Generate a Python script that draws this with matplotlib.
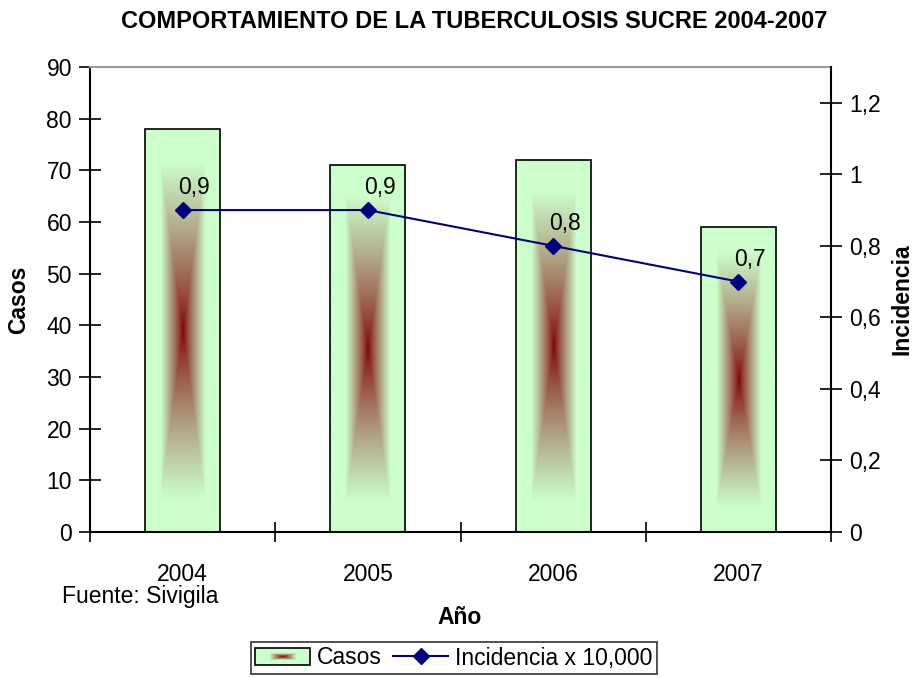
import matplotlib
matplotlib.use("Agg")
import matplotlib.pyplot as plt
import numpy as np
from matplotlib.legend_handler import HandlerBase
from matplotlib.patches import Rectangle
from matplotlib.lines import Line2D
from matplotlib.ticker import FuncFormatter

plt.rcParams['font.family'] = ['Liberation Sans', 'DejaVu Sans']

years = ['2004', '2005', '2006', '2007']
casos = [78, 71, 72, 59]
incidencia = [0.9, 0.9, 0.8, 0.7]

GREEN = np.array([204, 255, 204]) / 255.0
RED = np.array([128, 0, 0]) / 255.0
FS = 16.5


def grad_image(nx=80, ny=300, a=0.6, b=0.84):
	# rectangular "from centre" gradient, red in the middle, green outside
	u = np.abs(np.linspace(-1, 1, nx))[None, :]
	v = np.abs(np.linspace(-1, 1, ny))[:, None]
	d = np.clip(np.maximum(u / a, v / b), 0, 1) ** 0.8
	img = RED[None, None, :] * (1 - d[..., None]) + GREEN[None, None, :] * d[..., None]
	return img


class GradHandler(HandlerBase):
	def create_artists(self, legend, orig_handle, xdescent, ydescent, width, height, fontsize, trans):
		arts = []
		x0, y0 = -xdescent, -ydescent
		n = 14
		for i in range(n):
			f = 1 - i / n
			c = RED * (1 - f) + GREEN * f
			w = width * 0.5 * (1 - i / n) if i else width
			h = height * 0.45 * (1 - i / n) if i else height
			r = Rectangle((x0 + (width - w) / 2, y0 + (height - h) / 2), w, h,
						  facecolor=c, edgecolor='none', transform=trans)
			arts.append(r)
		arts.append(Rectangle((x0, y0), width, height, facecolor='none',
							  edgecolor='black', lw=1.2, transform=trans))
		return arts


fig = plt.figure(figsize=(9.13, 6.78), dpi=100)
ax = fig.add_axes([90 / 913, 1 - 532 / 678, (831 - 90) / 913, (532 - 67) / 678])
x = np.arange(len(years))

bars = ax.bar(x, casos, 0.405, facecolor='none', edgecolor='black', lw=1.2, zorder=3)
img = grad_image()
for b in bars:
	bx, by = b.get_x(), b.get_y()
	bw, bh = b.get_width(), b.get_height()
	ax.imshow(img, extent=[bx, bx + bw, by, by + bh], aspect='auto', zorder=2,
			  interpolation='bilinear')

ax.set_xlim(-0.5, 3.5)
ax.set_ylim(0, 90)
ax.set_yticks(np.arange(0, 91, 10))
ax.set_xticks(np.arange(-0.5, 4, 1))
ax.set_xticklabels([])
ax.set_xticks(x, minor=True)
ax.set_xticklabels(years, minor=True)
ax.tick_params(axis='x', which='minor', length=0, pad=22, labelsize=FS)
ax.tick_params(axis='x', which='major', direction='inout', length=14, width=1.2)
ax.tick_params(axis='y', direction='inout', length=16, width=1.2, labelsize=FS, pad=5)
for s in ['left', 'bottom']:
	ax.spines[s].set_linewidth(1.5)
ax.spines['top'].set_color('#999999')
ax.spines['top'].set_linewidth(1.5)
ax.spines['right'].set_visible(False)

ax2 = ax.twinx()
ax2.set_ylim(0, 1.3)
ax2.set_yticks(np.arange(0, 1.21, 0.2))
ax2.yaxis.set_major_formatter(FuncFormatter(lambda v, p: ('%g' % round(v, 1)).replace('.', ',')))
ax2.tick_params(axis='y', direction='inout', length=16, width=1.2, labelsize=FS, pad=5)
ax2.spines['right'].set_linewidth(1.5)
for s in ['top', 'left', 'bottom']:
	ax2.spines[s].set_visible(False)
ax2.plot(x, incidencia, color='#000080', lw=1.5, marker='D', markersize=8, zorder=5)
for xi, yi in zip(x, incidencia):
	ax2.annotate(('%g' % yi).replace('.', ','), (xi, yi), xytext=(-3, 8),
				 textcoords='offset points', ha='left', va='bottom', fontsize=FS)

ax.set_ylabel('Casos', fontsize=FS, fontweight='bold')
ax.yaxis.set_label_coords((30 - 90) / 741, 0.5)
ax2.set_ylabel('Incidencia', fontsize=FS, fontweight='bold', rotation=90)
ax2.yaxis.set_label_coords((891 - 90) / 741, 0.5)

fig.text(474 / 913, 1 - 22 / 678, 'COMPORTAMIENTO DE LA TUBERCULOSIS SUCRE 2004-2007',
		 ha='center', va='center', fontsize=17, fontweight='bold')
fig.text(62 / 913, 1 - 596 / 678, 'Fuente: Sivigila', ha='left', va='center', fontsize=FS)
fig.text(460 / 913, 1 - 617 / 678, 'Año', ha='center', va='center', fontsize=FS, fontweight='bold')

h1 = Rectangle((0, 0), 1, 1)
h2 = Line2D([], [], color='#000080', lw=1.5, marker='D', markersize=8)
leg = fig.legend([h1, h2], ['Casos', 'Incidencia x 10,000'], loc='center',
				 bbox_to_anchor=(454 / 913, 1 - 658 / 678), ncol=2, frameon=True,
				 fancybox=False, edgecolor='black', fontsize=FS, handlelength=2.4,
				 handletextpad=0.3, columnspacing=0.5, borderpad=0.2,
				 handler_map={Rectangle: GradHandler()})
leg.get_frame().set_linewidth(1.2)

fig.savefig('out.png', dpi=100)
